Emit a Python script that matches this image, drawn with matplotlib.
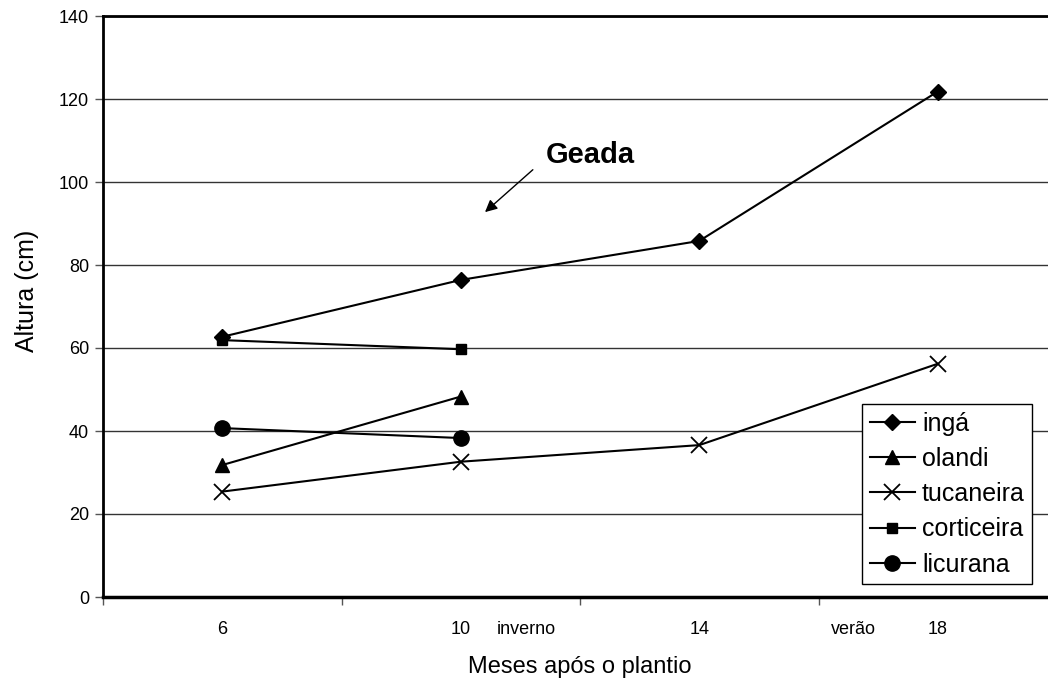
import matplotlib.pyplot as plt
import numpy as np

plt.rcParams['font.family'] = ['Liberation Sans', 'DejaVu Sans']

# Meses após o plantio (categorias do eixo x)
meses = ['6', '10', '14', '18']

# Altura (cm) de cada espécie
inga = [62.7, 76.4, 85.8, 121.8]
olandi = [31.8, 48.3]
tucaneira = [25.4, 32.6, 36.6, 56.2]
corticeira = [61.9, 59.7]
licurana = [40.7, 38.3]

series = [
    ('ingá', inga, 'D', 8, 1),
    ('olandi', olandi, '^', 10, 1),
    ('tucaneira', tucaneira, 'x', 12, 1.3),
    ('corticeira', corticeira, 's', 6.5, 1),
    ('licurana', licurana, 'o', 11, 1),
]

fig = plt.figure(figsize=(10.48, 6.79), dpi=100)
ax = fig.add_axes([103 / 1048, 82 / 679, 954 / 1048, 581 / 679])

for nome, vals, mk, ms, mew in series:
    x = np.arange(len(vals))
    ax.plot(x, vals, color='black', lw=1.5, marker=mk, markersize=ms,
            markeredgewidth=mew, markerfacecolor='black', markeredgecolor='black',
            label=nome, zorder=3)

ax.set_xlim(-0.5, 3.5)
ax.set_ylim(0, 140)
ax.set_yticks(np.arange(0, 141, 20))
ax.tick_params(axis='y', labelsize=13, length=6, width=1, color='#555555', pad=4)

# categorias: rótulos no centro, marcas nas divisas
ax.set_xticks(np.arange(len(meses)))
ax.set_xticklabels(meses)
ax.set_xticks(np.arange(-0.5, 4, 1), minor=True)
ax.tick_params(axis='x', which='major', length=0, labelsize=13, pad=17)
ax.tick_params(axis='x', which='minor', length=6, width=1, color='#555555')

ax.yaxis.grid(True, color='#333333', lw=1)
ax.set_axisbelow(True)

ax.spines['right'].set_visible(False)
ax.spines['top'].set_linewidth(2)
ax.spines['left'].set_linewidth(2)
ax.spines['bottom'].set_linewidth(2.5)

ax.set_xlabel('Meses após o plantio', fontsize=17, labelpad=13)
ax.set_ylabel('Altura (cm)', fontsize=18)
ax.yaxis.set_label_coords(-0.067, 0.527)

ax.text(1.274, -7.8, 'inverno', fontsize=13, ha='center', va='center')
ax.text(2.645, -7.8, 'verão', fontsize=13, ha='center', va='center')

ax.annotate('', xy=(1.093, 92.3), xytext=(1.311, 103.4),
            arrowprops=dict(arrowstyle='-|>', color='black', lw=1,
                            mutation_scale=18))
ax.text(1.542, 106.5, 'Geada', fontsize=21, fontweight='bold',
        ha='center', va='center')

leg = ax.legend(loc='upper left', bbox_to_anchor=(862 / 1048, 1 - 404 / 679),
                bbox_transform=fig.transFigure, borderaxespad=0, fontsize=18,
                fancybox=False, framealpha=1, edgecolor='black',
                handlelength=1.8, handletextpad=0.3, labelspacing=0.45,
                borderpad=0.3)
leg.get_frame().set_linewidth(1)

fig.savefig('out.png', dpi=100)
